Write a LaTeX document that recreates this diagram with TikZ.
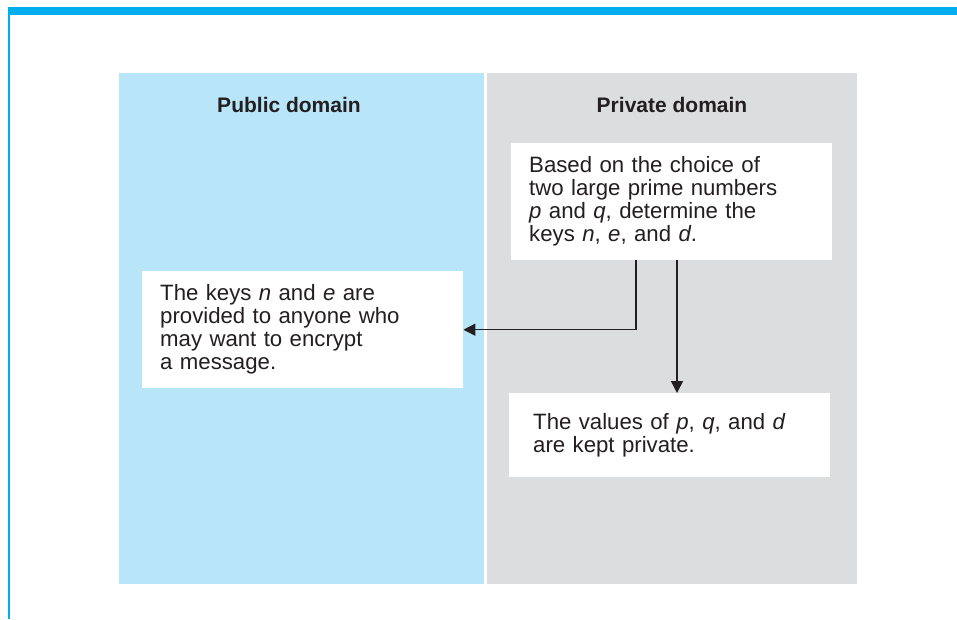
\documentclass[tikz,border=0pt]{standalone}
\usepackage{fontspec}
\setmainfont{Liberation Sans}
\usepackage{tikz}
\usetikzlibrary{arrows.meta,positioning,calc}

\definecolor{barblue}{HTML}{00AEEF}
\definecolor{publicblue}{HTML}{B9E5F8}
\definecolor{privategray}{HTML}{DCDDDE}
\definecolor{inkdark}{HTML}{231F20}

\tikzset{
	domaintitle/.style={font=\fontsize{21}{23}\selectfont\bfseries,text=inkdark},
	keybox/.style={fill=white,anchor=north west,align=left,text=inkdark,
		font=\fontsize{22.2}{23}\selectfont,minimum width=321pt,
		inner xsep=18pt,text width=285pt},
	keyarrow/.style={draw=inkdark,line width=1.5pt,-{Triangle[length=12pt,width=12pt]}}
}

\begin{document}
\begin{tikzpicture}[x=1pt,y=-1pt]
		
		\useasboundingbox (0,0) rectangle (957,619);
		
		% --- frame: top bar and left rule ---
		\fill[barblue] (8,7) rectangle (957,14.5);
		\fill[barblue] (8,14) rectangle (9.5,619);
		
		% ======================================================
		% the two domains
		% ======================================================
		\fill[publicblue] (119,73) rectangle (484,584);
		\fill[privategray] (487,73) rectangle (857,584);
		
		\node[domaintitle] (pubtitle) at (289,105) {Public domain};
		\node[domaintitle] (privtitle) at (672,105) {Private domain};
		
		% ======================================================
		% text boxes
		% ======================================================
		\node[keybox,minimum height=117pt] (keys) at (511,143)
			{Based on the choice of\\two large prime numbers\\\textit{p} and \textit{q}, determine the\\keys \textit{n}, \textit{e}, and \textit{d}.};
		
		\node[keybox,minimum height=117pt] (pub) at (142,271)
			{The keys \textit{n} and \textit{e} are\\provided to anyone who\\may want to encrypt\\a message.};
		
		\node[keybox,minimum height=84pt,inner xsep=24pt,text width=273pt] (priv) at (509,393)
			{The values of \textit{p}, \textit{q}, and \textit{d}\\are kept private.};
		
		% ======================================================
		% connectors
		% ======================================================
		\coordinate (tappub) at (636,0);
		\coordinate (tappriv) at (677,0);
		
		% n and e go out to the public side
		\draw[keyarrow] (tappub |- keys.south) |- (pub.east);
		
		% p, q and d stay private
		\draw[keyarrow] (tappriv |- keys.south) -- (tappriv |- priv.north);
		
	\end{tikzpicture}
\end{document}
